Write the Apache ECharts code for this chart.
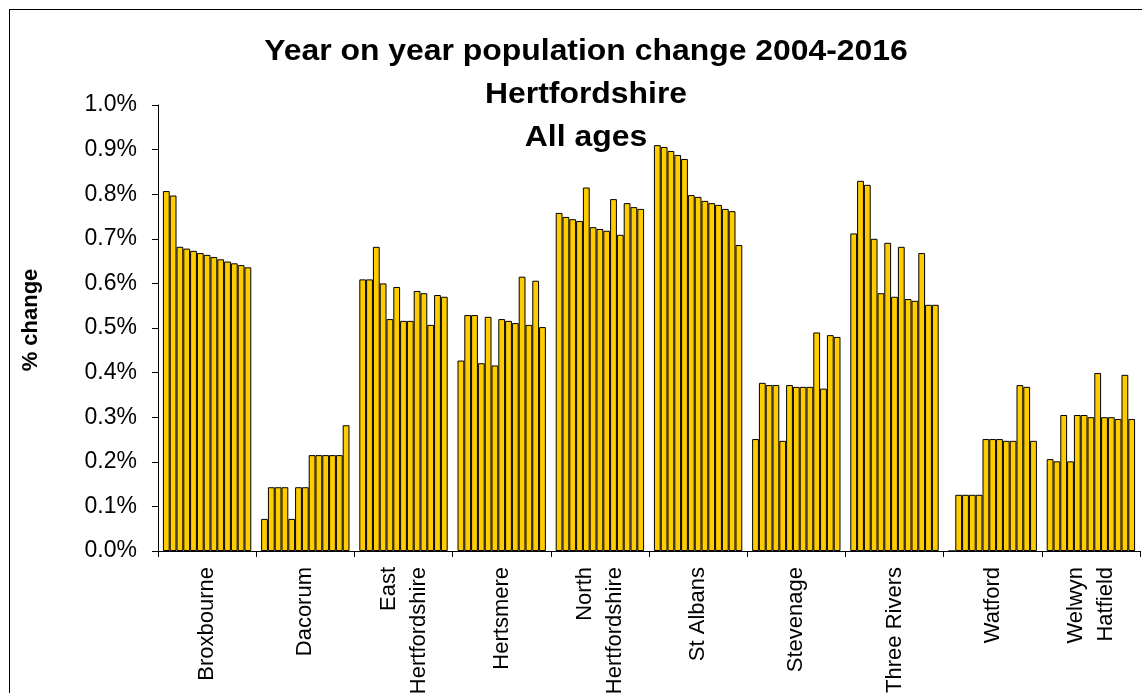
<!DOCTYPE html>
<html>
<head>
<meta charset="utf-8">
<script src="https://cdn.jsdelivr.net/npm/echarts@6/dist/echarts.min.js"></script>
<style>
  html, body { margin: 0; padding: 0; background: #fff; }
  #frame {
    position: absolute; left: 9px; top: 9px; width: 1140px; height: 700px;
    border: 1px solid #000; box-sizing: border-box;
  }
  #chart { position: absolute; left: 0; top: 0; width: 1142px; height: 693px; }
</style>
</head>
<body>
<div id="frame"></div>
<div id="chart"></div>
<script>
// districts along the x axis
const districts = ['Broxbourne', 'Dacorum', 'East\nHertfordshire', 'Hertsmere', 'North\nHertfordshire',
  'St Albans', 'Stevenage', 'Three Rivers', 'Watford', 'Welwyn\nHatfield'];
const years = ['2004', '2005', '2006', '2007', '2008', '2009', '2010', '2011', '2012', '2013', '2014', '2015', '2016'];
const yTicks = { min: 0, max: 1.0, step: 0.1 };
const titleLines = ['Year on year population change 2004-2016', 'Hertfordshire', 'All ages'];

// % change per year, one array per district
const broxbourne = [0.807, 0.797, 0.682, 0.678, 0.673, 0.668, 0.664, 0.659, 0.654, 0.649, 0.645, 0.641, 0.636];
const dacorum = [0.072, 0.143, 0.143, 0.143, 0.072, 0.143, 0.143, 0.215, 0.215, 0.215, 0.215, 0.215, 0.282];
const eastHerts = [0.609, 0.609, 0.682, 0.600, 0.520, 0.592, 0.516, 0.516, 0.583, 0.578, 0.507, 0.574, 0.570];
const hertsmere = [0.427, 0.529, 0.529, 0.421, 0.525, 0.416, 0.520, 0.516, 0.511, 0.615, 0.507, 0.606, 0.502];
const northHerts = [0.758, 0.749, 0.744, 0.740, 0.815, 0.726, 0.722, 0.718, 0.789, 0.709, 0.780, 0.771, 0.767];
const stAlbans = [0.910, 0.906, 0.897, 0.888, 0.879, 0.798, 0.794, 0.785, 0.780, 0.776, 0.767, 0.762, 0.686];
const stevenage = [0.251, 0.377, 0.372, 0.372, 0.247, 0.372, 0.368, 0.368, 0.368, 0.490, 0.364, 0.484, 0.480];
const threeRivers = [0.712, 0.830, 0.821, 0.700, 0.578, 0.691, 0.570, 0.682, 0.565, 0.561, 0.668, 0.552, 0.552];
const watford = [0, 0.126, 0.126, 0.126, 0.126, 0.251, 0.251, 0.251, 0.247, 0.247, 0.372, 0.368, 0.247];
const welwynHatfield = [0.206, 0.201, 0.305, 0.201, 0.305, 0.305, 0.300, 0.399, 0.300, 0.300, 0.296, 0.395, 0.296];

const byDistrict = [broxbourne, dacorum, eastHerts, hertsmere, northHerts,
  stAlbans, stevenage, threeRivers, watford, welwynHatfield];

const font = 'Liberation Sans, Arial, sans-serif';

const chart = echarts.init(document.getElementById('chart'));

const series = years.map((yr, i) => ({
  name: yr,
  type: 'bar',
  barGap: '0%',
  barCategoryGap: '10%',
  data: byDistrict.map(d => d[i]),
  itemStyle: { color: '#FFCC00', borderColor: '#000', borderWidth: 1 }
}));

// title lines, a touch wider than the plain font like the original
const titleY = [52, 95, 138];
const graphics = titleLines.map((t, i) => ({
  type: 'text',
  x: 586,
  y: titleY[i],
  scaleX: 1.1,
  style: {
    text: t, textAlign: 'center', textVerticalAlign: 'middle',
    font: 'bold 29px ' + font, fill: '#000'
  }
}));
graphics.push({
  type: 'text',
  x: 31,
  y: 320,
  rotation: Math.PI / 2,
  style: {
    text: '% change', textAlign: 'center', textVerticalAlign: 'middle',
    font: 'bold 22px ' + font, fill: '#000'
  }
});

chart.setOption({
  animation: false,
  backgroundColor: 'transparent',
  graphic: graphics,
  grid: { left: 158, right: 2, top: 105, bottom: 142, outerBoundsMode: 'none' },
  xAxis: {
    type: 'category',
    data: districts,
    axisLine: { lineStyle: { color: '#000', width: 1 } },
    axisTick: { show: true, length: 6, lineStyle: { color: '#000' } },
    axisLabel: {
      rotate: 90, margin: 16, interval: 0,
      fontFamily: font, fontSize: 22, color: '#000', lineHeight: 30
    }
  },
  yAxis: {
    type: 'value',
    min: yTicks.min,
    max: yTicks.max,
    interval: yTicks.step,
    axisLine: { show: true, lineStyle: { color: '#000', width: 1 } },
    axisTick: { show: true, length: 6, lineStyle: { color: '#000' } },
    splitLine: { show: false },
    axisLabel: {
      margin: 21,
      fontFamily: font, fontSize: 23, color: '#000',
      formatter: v => v.toFixed(1) + '%'
    }
  },
  series: series
});
</script>
</body>
</html>
